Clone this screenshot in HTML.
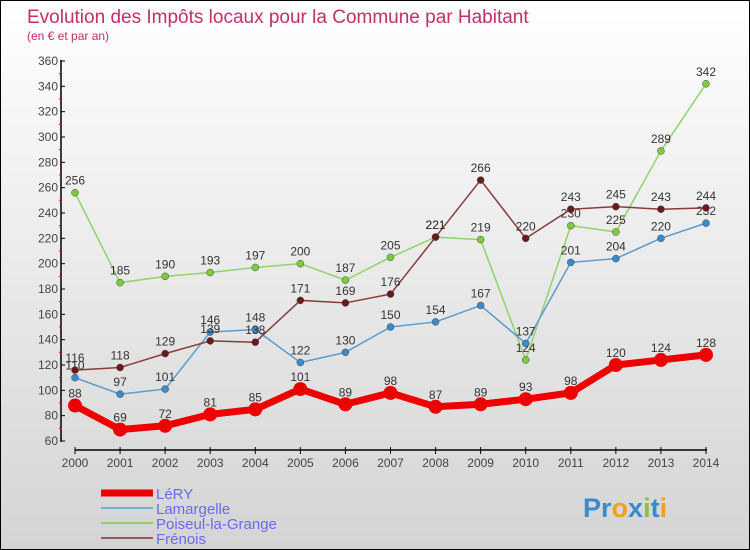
<!DOCTYPE html>
<html><head><meta charset="utf-8"><style>
body{margin:0}
#c{width:748px;height:548px;border:1px solid #000;background:linear-gradient(#fff,#f2f2f2 30%,#d4d4d4);position:relative;overflow:hidden;font-family:"Liberation Sans",sans-serif}
</style></head><body>
<div id="c">
<svg id="s" width="748" height="548">
<text x="26" y="22" font-size="19" fill="#c0306a">Evolution des Impôts locaux pour la Commune par Habitant</text>
<text x="26" y="39" font-size="12" fill="#c0306a">(en € et par an)</text>
<g id="g"></g>
</svg>
</div>
<script>
const years=[2000,2001,2002,2003,2004,2005,2006,2007,2008,2009,2010,2011,2012,2013,2014];
const yTicks=[60,80,100,120,140,160,180,200,220,240,260,280,300,320,340,360];
const lery=[88,69,72,81,85,101,89,98,87,89,93,98,120,124,128];
const lamargelle=[110,97,101,146,148,122,130,150,154,167,137,201,204,220,232];
const poiseul=[256,185,190,193,197,200,187,205,221,219,124,230,225,289,342];
const frenois=[116,118,129,139,138,171,169,176,221,266,220,243,245,243,244];
const NS="http://www.w3.org/2000/svg";
const g=document.getElementById('g');
function X(i){return 74+i*(705-74)/(years.length-1);}
function Y(v){return 440-(v-60)*380/300;}
function el(t,a,p){const e=document.createElementNS(NS,t);for(const k in a)e.setAttribute(k,a[k]);(p||g).appendChild(e);return e;}
let e=el('line',{x1:60,y1:59,x2:60,y2:441,stroke:'#000','stroke-width':1.5});


e=el('line',{x1:74,y1:449,x2:706,y2:449,stroke:'#000','stroke-width':1.5});


yTicks.forEach((v,i)=>{
 el('line',{x1:60,y1:Y(v),x2:64,y2:Y(v),stroke:'#000'});
 if(i<yTicks.length-1) el('line',{x1:58,y1:Y(v+10),x2:61,y2:Y(v+10),stroke:'#e00'});
 const t=el('text',{x:57,y:Y(v)+4,'font-size':12,fill:'#444','text-anchor':'end'});t.textContent=v;
 
 
});
years.forEach((yr,i)=>{
 el('line',{x1:X(i),y1:446,x2:X(i),y2:453,stroke:'#000'});
 const t=el('text',{x:X(i),y:466,'font-size':12,fill:'#444','text-anchor':'middle'});t.textContent=yr;
 
 
});
function series(d,col,w,r,name,dot){
 const p=el('polyline',{points:d.map((v,i)=>X(i)+','+Y(v)).join(' '),fill:'none',stroke:col,'stroke-width':w,'stroke-linejoin':'round'});
 
 
 d.forEach((v,i)=>{
  const c=el('circle',{cx:X(i),cy:Y(v),r:r,fill:dot,stroke:'#444','stroke-width':w>3?0:0.5});
  
  
  const t=el('text',{x:X(i),y:Y(v)-8,'font-size':12,fill:'#333','text-anchor':'middle'});t.textContent=v;
  
  
 });
}
series(poiseul,'#8fd46a',1.5,3.5,'poiseul','#7ccc3c');
series(lamargelle,'#5a9ccc',1.5,3.5,'lamargelle','#3a8acc');
series(frenois,'#8a3a3a',1.5,3.5,'frenois','#6a1a1a');
series(lery,'#ee0000',7,7,'lery','#ee0000');
const leg=[['LéRY','#ee0000',7],['Lamargelle','#7ab0d8',2],['Poiseul-la-Grange','#90d070',2],['Frénois','#9a5a5a',2]];
leg.forEach((l,i)=>{
 const y=492+i*15;
 const ln=el('line',{x1:100,y1:y,x2:152,y2:y,stroke:l[1],'stroke-width':l[2]});
 
 
 const t=el('text',{x:155,y:y+6,'font-size':15,fill:'#6a6aee'});t.textContent=l[0];
 
 
});
const lg=el('text',{x:582,y:516,'font-size':27,'font-weight':'bold',fill:'#3a8ad0'});
lg.innerHTML='<tspan fill="#3a8ad0">Pr</tspan><tspan fill="#f0a020">o</tspan><tspan fill="#3a8ad0">x</tspan><tspan fill="#8ac040">i</tspan><tspan fill="#3a8ad0">t</tspan><tspan fill="#f0a020">i</tspan>';


</script>
</body></html>
